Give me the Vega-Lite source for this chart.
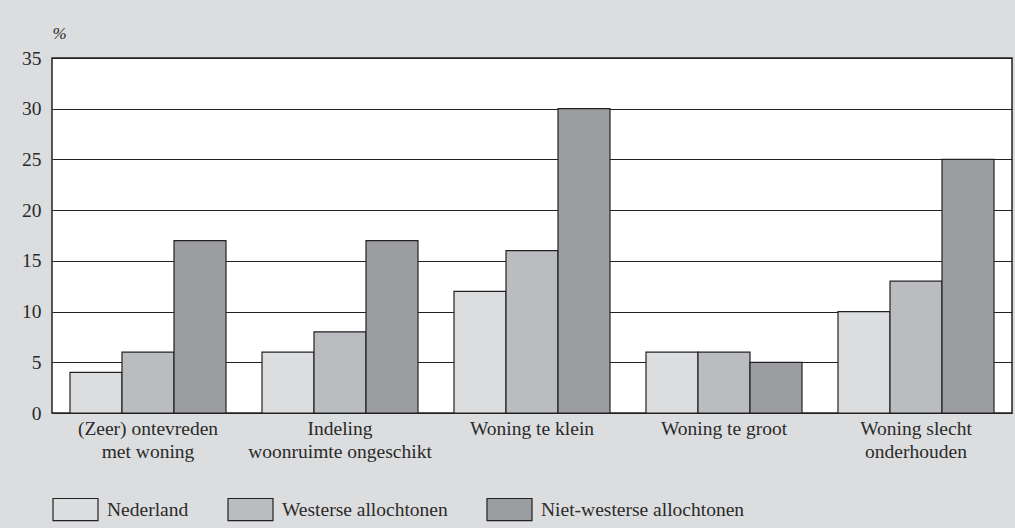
{
  "$schema": "https://vega.github.io/schema/vega-lite/v6.json",
  "autosize": {"type": "none"},
  "width": 960,
  "height": 355,
  "padding": {"left": 52, "top": 58, "right": 3, "bottom": 115},
  "background": "#dcdddf",
  "config": {
    "view": {"fill": "white", "stroke": "#222222", "strokeWidth": 1.5},
    "font": "Liberation Serif",
    "axis": {"labelFont": "Liberation Serif", "titleFont": "Liberation Serif", "labelColor": "#2a2a2a", "titleColor": "#2a2a2a"},
    "legend": {"labelFont": "Liberation Serif", "padding": 0}
  },
  "data": {
    "values": [
      {"cat": "(Zeer) ontevreden|met woning", "groep": "Nederland", "pct": 4},
      {"cat": "(Zeer) ontevreden|met woning", "groep": "Westerse allochtonen", "pct": 6},
      {"cat": "(Zeer) ontevreden|met woning", "groep": "Niet-westerse allochtonen", "pct": 17},
      {"cat": "Indeling|woonruimte ongeschikt", "groep": "Nederland", "pct": 6},
      {"cat": "Indeling|woonruimte ongeschikt", "groep": "Westerse allochtonen", "pct": 8},
      {"cat": "Indeling|woonruimte ongeschikt", "groep": "Niet-westerse allochtonen", "pct": 17},
      {"cat": "Woning te klein", "groep": "Nederland", "pct": 12},
      {"cat": "Woning te klein", "groep": "Westerse allochtonen", "pct": 16},
      {"cat": "Woning te klein", "groep": "Niet-westerse allochtonen", "pct": 30},
      {"cat": "Woning te groot", "groep": "Nederland", "pct": 6},
      {"cat": "Woning te groot", "groep": "Westerse allochtonen", "pct": 6},
      {"cat": "Woning te groot", "groep": "Niet-westerse allochtonen", "pct": 5},
      {"cat": "Woning slecht|onderhouden", "groep": "Nederland", "pct": 10},
      {"cat": "Woning slecht|onderhouden", "groep": "Westerse allochtonen", "pct": 13},
      {"cat": "Woning slecht|onderhouden", "groep": "Niet-westerse allochtonen", "pct": 25}
    ]
  },
  "mark": {"type": "bar", "stroke": "#222222", "strokeWidth": 1.2},
  "encoding": {
    "x": {
      "field": "cat",
      "type": "nominal",
      "sort": null,
      "scale": {"paddingInner": 0.1875, "paddingOuter": 0.09375},
      "axis": {
        "title": null,
        "labelAngle": 0,
        "labelExpr": "split(datum.label, '|')",
        "labelFontSize": 19.5,
        "labelLineHeight": 23,
        "labelPadding": 6,
        "labelLimit": 400,
        "ticks": false,
        "domain": false,
        "labelBaseline": "top"
      }
    },
    "xOffset": {
      "field": "groep",
      "type": "nominal",
      "sort": ["Nederland", "Westerse allochtonen", "Niet-westerse allochtonen"],
      "scale": {"paddingInner": 0, "paddingOuter": 0}
    },
    "y": {
      "field": "pct",
      "type": "quantitative",
      "scale": {"domain": [0, 35], "nice": false},
      "axis": {
        "values": [0, 5, 10, 15, 20, 25, 30, 35],
        "title": "%",
        "titleAngle": 0,
        "titleAlign": "left",
        "titleBaseline": "middle",
        "titleX": 0,
        "titleY": -25,
        "titleFontSize": 17,
        "titleFontWeight": "normal",
        "titleFontStyle": "italic",
        "labelFontSize": 19.5,
        "labelPadding": 11,
        "ticks": false,
        "domain": false,
        "grid": true,
        "gridColor": "#222222",
        "gridWidth": 1.2,
        "gridOpacity": 1
      }
    },
    "fill": {
      "field": "groep",
      "type": "nominal",
      "sort": ["Nederland", "Westerse allochtonen", "Niet-westerse allochtonen"],
      "scale": {"range": ["#dcdddf", "#bbbcbf", "#9c9da0"]},
      "legend": {
        "title": null,
        "orient": "none",
        "direction": "horizontal",
        "legendX": 0,
        "legendY": 428,
        "symbolType": "M-1,-0.49H1V0.49H-1Z",
        "symbolSize": 2025,
        "symbolStrokeColor": "#222222",
        "symbolStrokeWidth": 1.2,
        "symbolOpacity": 1,
        "labelFontSize": 19.5,
        "labelColor": "#2a2a2a",
        "labelOffset": 8,
        "columnPadding": 36,
        "labelLimit": 400
      }
    }
  }
}
